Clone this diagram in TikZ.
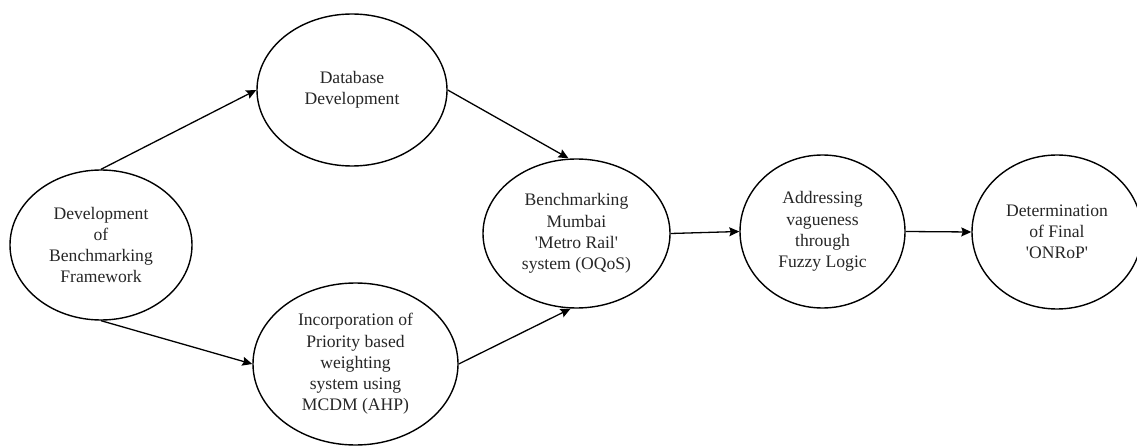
\documentclass[tikz,border=0pt]{standalone}
\usepackage{fontspec}
\setmainfont{Liberation Serif}
\usetikzlibrary{shapes.geometric,arrows.meta}
\begin{document}
\begin{tikzpicture}[x=1pt,y=-1pt,
  stage/.style={ellipse,draw=black,line width=1.4pt,inner sep=0pt,align=center,
    text=black!85,font=\fontsize{17.6}{21.2}\selectfont},
  flow/.style={line width=1.3pt,-{Stealth[length=10pt,width=9pt,inset=1.5pt]}}]
\useasboundingbox (0,0) rectangle (1137,446);
\node[stage,minimum width=182pt,minimum height=150pt] (e1) at (101,245)
  {Development\\of\\Benchmarking\\Framework};
\node[stage,minimum width=190pt,minimum height=152pt] (e2) at (352,90)
  {Database\\Development};
\node[stage,minimum width=205pt,minimum height=162pt] (e3) at (355.5,364)
  {Incorporation of\\Priority based\\weighting\\system using\\MCDM (AHP)};
\node[stage,minimum width=187pt,minimum height=149pt] (e4) at (576.5,233.5)
  {Benchmarking\\Mumbai\\\textquotesingle Metro Rail\textquotesingle\\system (OQoS)};
\node[stage,minimum width=165pt,minimum height=153pt] (e5) at (822.5,231.5)
  {Addressing\\vagueness\\through\\Fuzzy Logic};
\node[stage,minimum width=170pt,minimum height=154pt] (e6) at (1057,232)
  {Determination\\of Final\\\textquotesingle ONRoP\textquotesingle};
\draw[flow] (e1.north) -- (e2.west);
\draw[flow] (e1.south) -- (e3.west);
\draw[flow] (e2.east) -- ([xshift=-8pt]e4.north);
\draw[flow] (e3.east) -- ([xshift=-6pt]e4.south);
\draw[flow] (e4.east) -- (e5.west);
\draw[flow] (e5.east) -- (e6.west);
\end{tikzpicture}
\end{document}
